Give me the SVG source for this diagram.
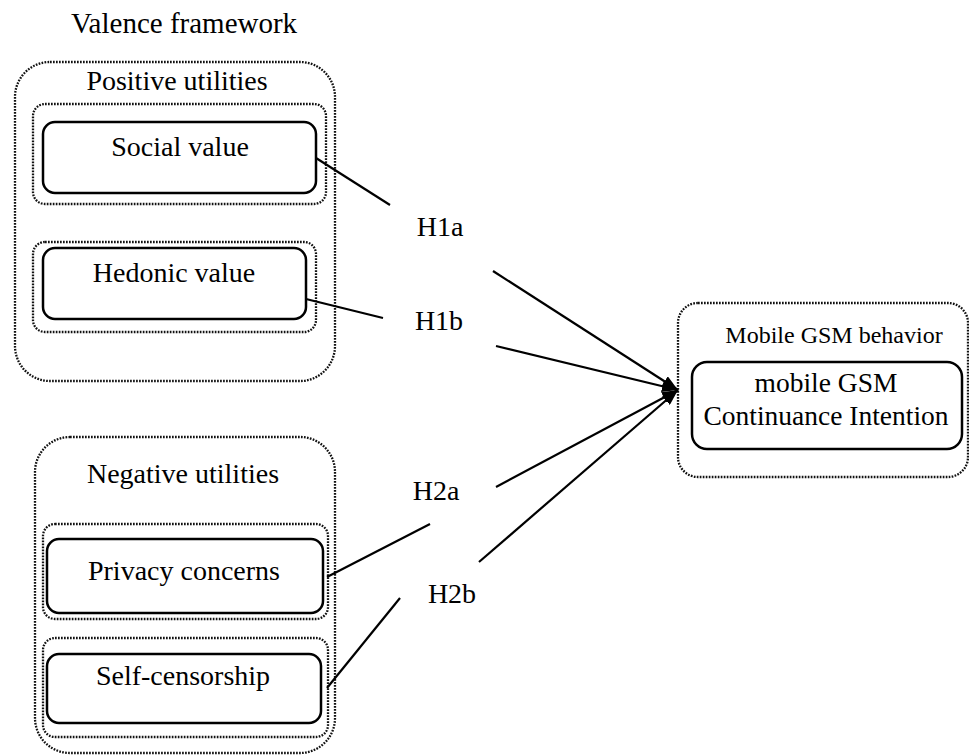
<svg xmlns="http://www.w3.org/2000/svg" width="969" height="755" viewBox="0 0 969 755">
<defs>
<style>
text{font-family:"Liberation Serif","Times New Roman",serif;font-size:28px;fill:#000;text-anchor:middle}
.dot{fill:none;stroke:#111;stroke-width:2.3;stroke-dasharray:1.7 1.3}
.box{fill:#fff;stroke:#000;stroke-width:2.5}
.ln{fill:none;stroke:#000;stroke-width:2.2}
</style>
<marker id="ah" viewBox="0 0 16 12" refX="16" refY="6" markerWidth="16" markerHeight="12" markerUnits="userSpaceOnUse" orient="auto">
<path d="M0,0 L16,6 L0,12 Z" fill="#000"/>
</marker>
</defs>
<rect width="969" height="755" fill="#fff"/>
<text x="184" y="33" style="font-size:29px">Valence framework</text>
<g id="positive">
<rect class="dot" x="15" y="62" width="320" height="319" rx="35"/>
<text x="177" y="90">Positive utilities</text>
</g>
<g id="social">
<rect class="dot" x="33" y="104" width="293" height="100" rx="12"/>
<rect class="box" x="43" y="122" width="273" height="71" rx="12"/>
<text x="180" y="156">Social value</text>
</g>
<g id="hedonic">
<rect class="dot" x="33" y="242" width="283" height="90" rx="12"/>
<rect class="box" x="43" y="248" width="263" height="71" rx="12"/>
<text x="174" y="282">Hedonic value</text>
</g>
<g id="negative">
<rect class="dot" x="35" y="437" width="300" height="316" rx="35"/>
<text x="183" y="483">Negative utilities</text>
</g>
<g id="privacy">
<rect class="dot" x="43" y="524" width="285" height="95" rx="12"/>
<rect class="box" x="47" y="539" width="276" height="74" rx="12"/>
<text x="184" y="580">Privacy concerns</text>
</g>
<g id="selfcensorship">
<rect class="dot" x="43" y="638" width="285" height="99" rx="12"/>
<rect class="box" x="47" y="654" width="274" height="69" rx="12"/>
<text x="183" y="685">Self-censorship</text>
</g>
<g id="mobile">
<rect class="dot" x="678" y="303" width="290" height="174" rx="20"/>
<text x="834" y="343" style="font-size:24px">Mobile GSM behavior</text>
<rect class="box" x="692" y="362" width="270" height="87" rx="15"/>
<text x="826" y="392" style="font-size:27.5px">mobile GSM</text>
<text x="826" y="425" style="font-size:27.5px">Continuance Intention</text>
</g>
<g id="connectors">
<line class="ln" x1="316" y1="158" x2="390" y2="205"/>
<line class="ln" x1="493" y1="271" x2="678" y2="390" marker-end="url(#ah)"/>
<line class="ln" x1="306" y1="299" x2="383" y2="318"/>
<line class="ln" x1="496" y1="346" x2="678" y2="390" marker-end="url(#ah)"/>
<line class="ln" x1="327" y1="577" x2="430" y2="524"/>
<line class="ln" x1="496" y1="487" x2="678" y2="390" marker-end="url(#ah)"/>
<line class="ln" x1="327" y1="688" x2="400" y2="598"/>
<line class="ln" x1="479" y1="562" x2="678" y2="390" marker-end="url(#ah)"/>
<text x="440" y="236">H1a</text>
<text x="439" y="330">H1b</text>
<text x="436" y="500">H2a</text>
<text x="452" y="603">H2b</text>
</g>
</svg>
